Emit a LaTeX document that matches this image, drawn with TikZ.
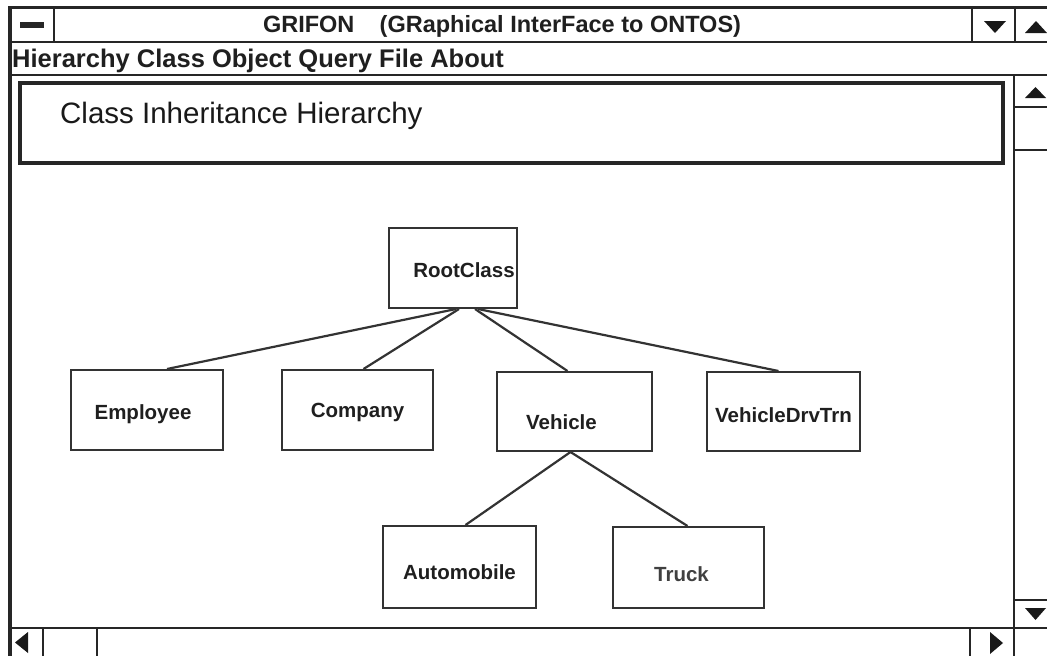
\documentclass[tikz,border=0pt]{standalone}
\usepackage{fontspec}
\setmainfont{Liberation Sans}
\begin{document}
\begin{tikzpicture}[x=1pt,y=-1pt,
  rule/.style={line width=2pt, draw=black!85},
  heavy/.style={line width=4pt, draw=black!85},
  tip/.style={fill=black!90, draw=none},
  cls/.style={draw=black!80, line width=2pt, fill=white, inner sep=0pt,
    minimum width=152pt, minimum height=80pt},
  lbl/.style={font=\fontsize{20.5}{24}\selectfont\bfseries, text=black!88, inner sep=0pt},
  link/.style={line width=2.2pt, draw=black!80},
  titletext/.style={font=\fontsize{23.5}{27}\selectfont\bfseries, text=black!88, inner sep=0pt},
  menutext/.style={font=\fontsize{25.5}{29}\selectfont\bfseries, text=black!88, inner sep=0pt},
  headtext/.style={font=\fontsize{29.5}{33}\selectfont, text=black!90, inner sep=0pt}]
\useasboundingbox (0,0) rectangle (1047,656);
\fill[white] (0,0) rectangle (1047,656);

% window frame, title bar and menu bar
\draw[rule, line width=3pt] (8,7) -- (1047,7);
\draw[heavy] (10,6) -- (10,656);
\draw[rule] (8,42) -- (1047,42);
\draw[rule] (54,7) -- (54,42);
\draw[rule] (972,7) -- (972,42);
\draw[rule] (1015,7) -- (1015,42);
\draw[rule] (8,75) -- (1047,75);
\fill[black!85] (20,22) rectangle (44,28);
\fill[tip] (984,21) -- (1006,21) -- (995,33) -- cycle;
\fill[tip] (1025,33) -- (1047,33) -- (1036,21) -- cycle;
\node[titletext] (title) at (502,26) {GRIFON\hspace{0.8em} (GRaphical InterFace to ONTOS)};
\node[menutext, anchor=west] (menu) at (12,61) {Hierarchy Class Object Query File About};

% scroll bars
\draw[rule] (1014,75) -- (1014,656);
\draw[rule] (1014,107) -- (1047,107);
\draw[rule] (1014,150) -- (1047,150);
\draw[rule] (1014,600) -- (1047,600);
\draw[rule] (8,628) -- (1047,628);
\draw[rule, line width=1.2pt] (43,628) -- (43,656);
\draw[rule] (97,628) -- (97,656);
\draw[rule] (970,628) -- (970,656);
\fill[tip] (1025,98) -- (1046,98) -- (1035.5,87) -- cycle;
\fill[tip] (1025,608) -- (1046,608) -- (1035.5,620) -- cycle;
\fill[tip] (990,632) -- (990,654) -- (1003,643) -- cycle;
\fill[tip] (28,632) -- (28,653) -- (15,642.5) -- cycle;

% heading panel
\draw[heavy] (20,83) rectangle (1003,163);
\node[headtext, anchor=west] (head) at (60,116) {Class Inheritance Hierarchy};

% class boxes
\node[cls, minimum width=128pt, label={[lbl, xshift=11pt, yshift=-2pt]center:RootClass}] (root) at (453,268) {};
\node[cls, label={[lbl, xshift=-4pt, yshift=-4pt]center:Employee}] (emp) at (147,410) {};
\node[cls, minimum width=151pt, label={[lbl, yshift=-2pt]center:Company}] (comp) at (357.5,410) {};
\node[cls, minimum width=155pt, minimum height=79pt, label={[lbl, xshift=-13pt, yshift=-11pt]center:Vehicle}] (veh) at (574.5,411.5) {};
\node[cls, minimum width=153pt, minimum height=79pt, label={[lbl, yshift=-4pt]center:VehicleDrvTrn}] (drv) at (783.5,411.5) {};
\node[cls, minimum width=153pt, minimum height=82pt, label={[lbl, yshift=-5pt]center:Automobile}] (auto) at (459.5,567) {};
\node[cls, minimum width=151pt, minimum height=81pt, label={[lbl, text=black!75, xshift=-7pt, yshift=-7pt]center:Truck}] (truck) at (688.5,567.5) {};

% inheritance links
\draw[link] ([xshift=3pt]root.south) -- ([xshift=20pt]emp.north);
\draw[link] ([xshift=6pt]root.south) -- ([xshift=6pt]comp.north);
\draw[link] ([xshift=22pt]root.south) -- ([xshift=-7pt]veh.north);
\draw[link] ([xshift=25pt]root.south) -- ([xshift=-5pt]drv.north);
\draw[link] ([xshift=-4pt]veh.south) -- ([xshift=6pt]auto.north);
\draw[link] ([xshift=-4pt]veh.south) -- ([xshift=-1pt]truck.north);
\end{tikzpicture}
\end{document}
